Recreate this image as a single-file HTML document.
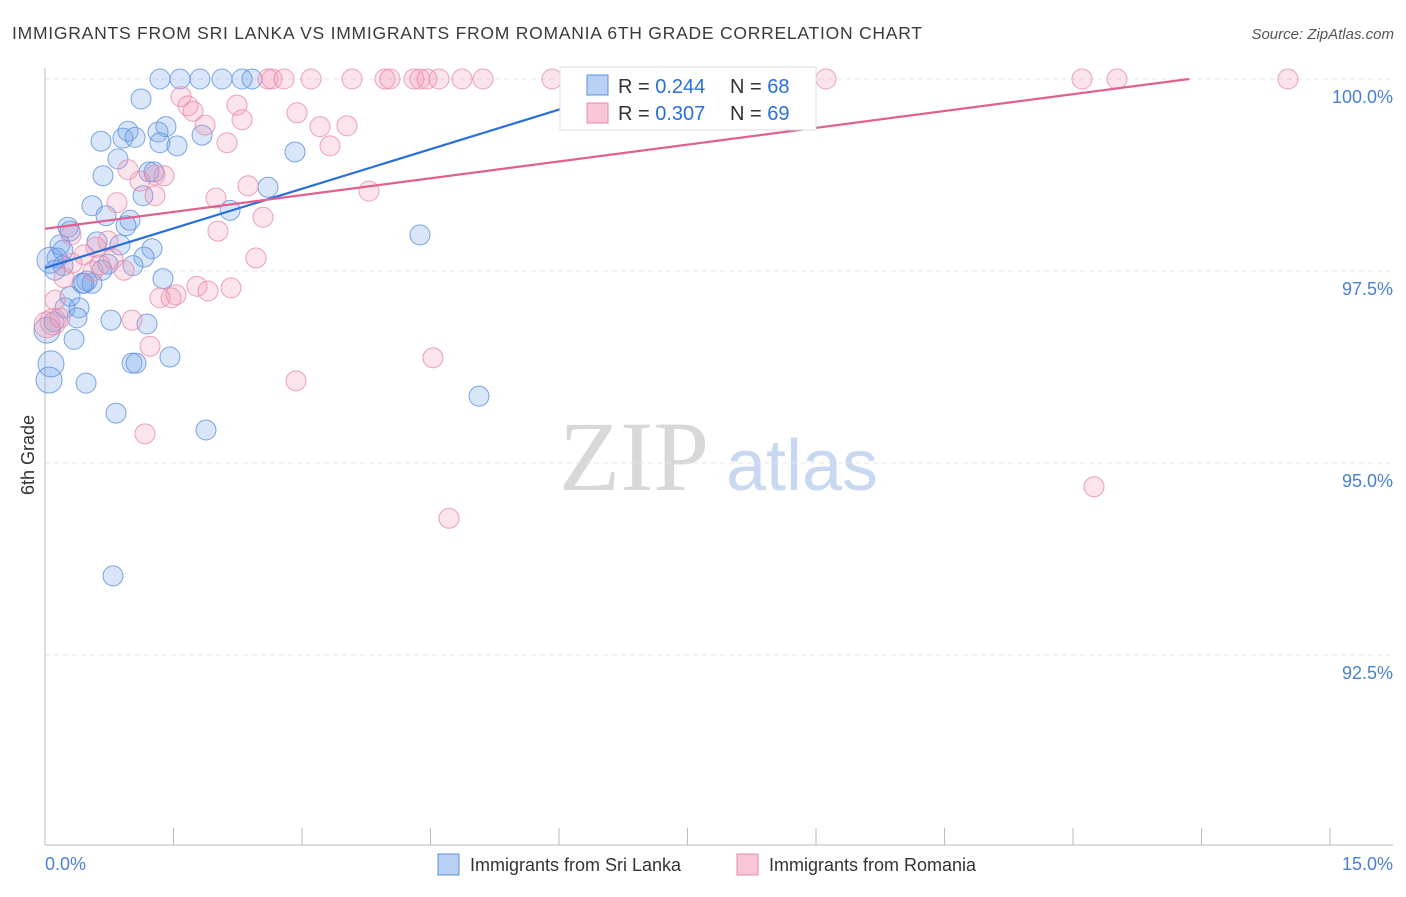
<!DOCTYPE html>
<html><head><meta charset="utf-8"><style>
body{margin:0;background:#fff;font-family:"Liberation Sans",sans-serif;}
</style></head><body>
<svg id="chart" width="1406" height="892" viewBox="0 0 1406 892" xmlns="http://www.w3.org/2000/svg" style="font-family:'Liberation Sans',sans-serif">
<text x="12" y="39" font-size="17.5" fill="#3a3a3a" textLength="910" lengthAdjust="spacing">IMMIGRANTS FROM SRI LANKA VS IMMIGRANTS FROM ROMANIA 6TH GRADE CORRELATION CHART</text>
<text x="1394" y="39" font-size="15" fill="#555" font-style="italic" text-anchor="end">Source: ZipAtlas.com</text>
<g>
<text x="634" y="490" font-size="100" fill="#d8d8d8" style="font-family:'Liberation Serif',serif" text-anchor="middle">ZIP</text>
<text x="802" y="490" font-size="72" fill="#c8d8f0" text-anchor="middle">atlas</text>
</g>
<g id="grid"></g>
<g id="axes"></g>
<g id="marks"></g>
<g id="lines"></g>
<text transform="translate(34,455) rotate(-90)" font-size="18" fill="#333" text-anchor="middle">6th Grade</text>
<g>
<rect x="560" y="67" width="256" height="63" fill="#fff" stroke="#ddd"/>
<rect x="587" y="75" width="21" height="20" fill="#b8d0f4" stroke="#5b8fe0"/>
<text x="618" y="93" font-size="20" fill="#333">R = <tspan fill="#2a6fdb">0.244</tspan></text>
<text x="730" y="93" font-size="20" fill="#333">N = <tspan fill="#2a6fdb">68</tspan></text>
<rect x="587" y="103" width="21" height="20" fill="#f8c6d6" stroke="#e88aa8"/>
<text x="618" y="120" font-size="20" fill="#333">R = <tspan fill="#2a6fdb">0.307</tspan></text>
<text x="730" y="120" font-size="20" fill="#333">N = <tspan fill="#2a6fdb">69</tspan></text>
</g>
<g>
<rect x="438" y="854" width="21" height="21" fill="#b8d0f4" stroke="#5b8fe0"/>
<text x="470" y="871" font-size="18" fill="#333">Immigrants from Sri Lanka</text>
</g>
<g>
<rect x="737" y="854" width="21" height="21" fill="#f8c6d6" stroke="#e88aa8"/>
<text x="769" y="871" font-size="18" fill="#333">Immigrants from Romania</text>
</g>
</svg>
<script>
const blueX=[1.342,1.576,1.809,2.066,2.300,2.416,1.121,0.654,0.969,0.910,1.051,1.319,1.412,1.342,1.541,1.833,0.852,0.677,1.214,1.272,1.144,0.549,0.712,0.992,0.946,0.268,0.292,0.607,0.175,0.875,1.249,2.160,2.603,2.918,4.377,0.140,0.210,1.156,0.735,0.665,0.490,0.432,0.549,1.377,0.292,0.105,0.397,0.233,0.374,0.770,1.191,0.070,0.339,0.047,0.479,1.016,1.062,1.459,0.829,1.879,0.794,5.066,0.058,0.117,0.023,0.210,0.455,1.027];
const blueY=[100,100,100,100,100,100,99.74,99.19,99.32,99.23,99.24,99.31,99.38,99.17,99.13,99.27,98.96,98.74,98.79,98.79,98.48,98.35,98.22,98.16,98.09,98.07,98.02,97.88,97.84,97.84,97.79,98.29,98.59,99.05,97.97,97.67,97.57,97.68,97.59,97.51,97.37,97.34,97.34,97.40,97.17,96.84,97.02,97.02,96.89,96.86,96.81,96.29,96.61,96.08,96.04,96.30,96.30,96.38,95.65,95.43,93.53,95.87,97.64,97.51,96.73,97.77,97.34,97.57];
const pinkX=[2.603,2.650,2.790,3.105,3.584,3.969,4.027,4.307,4.377,4.459,4.599,4.868,5.113,5.918,6.409,9.117,12.105,12.513,14.509,1.588,1.669,1.728,2.241,2.300,2.942,1.868,3.210,3.525,2.125,3.327,1.109,1.284,1.389,0.969,2.370,1.996,3.782,1.284,0.840,2.545,2.019,0.735,0.304,0.595,0.455,0.794,0.315,0.922,0.560,2.463,1.774,1.529,1.342,1.471,1.903,2.171,0.222,0.117,0.093,0.023,1.016,1.226,2.930,4.529,1.167,4.716,12.245,0.175,0.642];
const pinkY=[100,100,100,100,100,100,100,100,100,100,100,100,100,100,100,100,100,100,100,99.77,99.65,99.58,99.66,99.47,99.56,99.40,99.38,99.39,99.17,99.13,98.67,98.75,98.74,98.82,98.61,98.45,98.54,98.48,98.39,98.20,98.02,97.89,97.97,97.81,97.71,97.66,97.60,97.51,97.50,97.67,97.30,97.19,97.15,97.15,97.24,97.28,97.41,97.12,96.84,96.80,96.86,96.52,96.07,96.37,95.38,94.28,94.69,96.89,97.58];
const yTicks=[100,97.5,95,92.5];
const yTickLabels=["100.0%","97.5%","95.0%","92.5%"];
const xTickVals=[0,1.5,3,4.5,6,7.5,9,10.5,12,13.5,15];
const trendBlue=[97.54,0.3436];
const trendPink=[98.05,0.146];
const NS='http://www.w3.org/2000/svg';
const X0=45,X1=1330,Y100=79,PXY=76.8;
function sx(v){return X0+(v/15)*(X1-X0);}
function sy(v){return Y100+(100-v)*PXY;}
function mk(t,a,p){const e=document.createElementNS(NS,t);for(const k in a)e.setAttribute(k,a[k]);p.appendChild(e);return e;}
const grid=document.getElementById('grid'),axes=document.getElementById('axes'),marks=document.getElementById('marks'),lines=document.getElementById('lines');
yTicks.forEach((v,i)=>{
 const l=mk('line',{x1:45,x2:1393,y1:sy(v),y2:sy(v),stroke:'#e4e4e4','stroke-dasharray':'5,4'},grid);
 
 
 const t=mk('text',{x:1393,y:sy(v)+24,'font-size':18,fill:'#4a7fd4','text-anchor':'end'},axes);
 t.textContent=yTickLabels[i];
 
 
});
const ax=mk('line',{x1:45,x2:1393,y1:845,y2:845,stroke:'#bbb'},axes);


const ay=mk('line',{x1:45,x2:45,y1:68,y2:845,stroke:'#bbb'},axes);


xTickVals.forEach(v=>{
 const t=mk('line',{x1:sx(v),x2:sx(v),y1:828,y2:845,stroke:'#bbb'},axes);
 
 
});
const xl0=mk('text',{x:45,y:870,'font-size':18,fill:'#4a7fd4'},axes);xl0.textContent='0.0%';


const xl1=mk('text',{x:1393,y:870,'font-size':18,fill:'#4a7fd4','text-anchor':'end'},axes);xl1.textContent='15.0%';


function pts(xs,ys,fill,stroke,name){
 xs.forEach((x,i)=>{
  const c=mk('circle',{cx:sx(x),cy:sy(ys[i]),r:x<0.1?13:10,fill:fill,stroke:stroke,'stroke-width':1,'stroke-opacity':0.8},marks);
  
  
 });
}
pts(blueX,blueY,'rgba(120,165,235,0.28)','#5b8fe0','sri-lanka-point');
pts(pinkX,pinkY,'rgba(245,150,180,0.26)','#e88aa8','romania-point');
function trend(tr,color,name){
 const xEnd=Math.min(15,(100-tr[0])/tr[1]);
 const l=mk('line',{x1:sx(0),y1:sy(tr[0]),x2:sx(xEnd),y2:sy(tr[0]+tr[1]*xEnd),stroke:color,'stroke-width':2.2},lines);
 
 
}
trend(trendBlue,'#2a6fdb','sri-lanka-trendline');
trend(trendPink,'#e0608f','romania-trendline');
</script>
</body></html>
